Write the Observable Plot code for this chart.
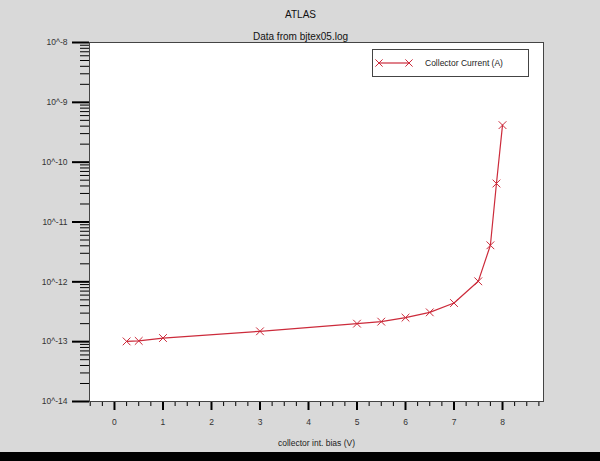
<!DOCTYPE html>
<html>
<head>
<meta charset="utf-8">
<script src="https://cdn.jsdelivr.net/npm/d3@7"></script>
<script src="https://cdn.jsdelivr.net/npm/@observablehq/plot@0.6"></script>
<style>
  html, body { margin: 0; padding: 0; background: #d9d9d9; width: 600px; height: 461px; overflow: hidden; }
  #wrap { position: relative; width: 600px; height: 452px; }
  #legend { position: absolute; left: 372px; top: 49px; }
  #bar { width: 600px; height: 9px; background: #000; }
</style>
</head>
<body>
<div id="wrap"></div>
<div id="bar"></div>
<script>
// ---- data ----
const title = "ATLAS";
const subtitle = "Data from bjtex05.log";
const xLabel = "collector int. bias (V)";
const seriesName = "Collector Current (A)";
const biasV = [0.25, 0.5, 1, 3, 5, 5.5, 6, 6.5, 7, 7.5, 7.75, 7.875, 8];
const currentA = [1.01e-13, 1.03e-13, 1.15e-13, 1.49e-13, 2.0e-13, 2.16e-13, 2.52e-13, 3.09e-13, 4.42e-13, 1.02e-12, 4.08e-12, 4.4e-11, 4.16e-10];
const xMajorTicks = [0, 1, 2, 3, 4, 5, 6, 7, 8];
const yDecades = [-14, -13, -12, -11, -10, -9, -8];

// ---- derived ----
const data = biasV.map((x, i) => ({x, y: currentA[i]}));
const yMajor = yDecades.map(k => Math.pow(10, k));
const yMinor = [];
yDecades.slice(0, -1).forEach(k => { for (let m = 2; m <= 9; m++) yMinor.push(m * Math.pow(10, k)); });
const xMinor = d3.range(-0.5, 8.85, 0.25).filter(v => Math.abs(v - Math.round(v)) > 1e-9);

const red = "#cc2b3b";
const font = "'Liberation Sans', Arial, sans-serif";

const chart = Plot.plot({
  width: 600,
  height: 452,
  marginLeft: 89,
  marginRight: 57,
  marginTop: 42,
  marginBottom: 51,
  style: { background: "#d9d9d9", fontFamily: font, fontSize: "8.5px", color: "#333" },
  x: { domain: [-0.515, 8.845] },
  y: { type: "log", domain: [1e-14, 1e-8] },
  marks: [
    Plot.frame({ fill: "white", stroke: null }),
    // y axis: minor + major ticks and labels
    Plot.axisY({ ticks: yMinor, tickSize: 9, tickFormat: () => "", stroke: "#000", label: null }),
    Plot.axisY({ ticks: yMajor, tickSize: 17, tickPadding: 5, strokeWidth: 2, stroke: "#000",
                 tickFormat: d => "10^" + Math.round(Math.log10(d)), label: null }),
    // x axis
    Plot.axisX({ ticks: xMinor, tickSize: 5, tickFormat: () => "", stroke: "#000", label: null }),
    Plot.axisX({ ticks: xMajorTicks, tickSize: 9, tickPadding: 8, strokeWidth: 2, stroke: "#000", label: null }),
    Plot.frame({ stroke: "#444", strokeWidth: 1 }),
    // titles
    Plot.text([title], { frameAnchor: "top", lineAnchor: "middle", dy: -28, dx: -16, text: d => d, fontSize: 10, fill: "#111" }),
    Plot.text([subtitle], { frameAnchor: "top", lineAnchor: "middle", dy: -6, dx: -16, text: d => d, fontSize: 10, fill: "#111" }),
    Plot.text([xLabel], { frameAnchor: "bottom", lineAnchor: "middle", dy: 42, text: d => d, fontSize: 8.5, fill: "#222" }),
    // series
    Plot.line(data, { x: "x", y: "y", stroke: red, strokeWidth: 1.2 }),
    Plot.dot(data, { x: "x", y: "y", symbol: "times", r: 3.6, stroke: red, strokeWidth: 1 })
  ]
});
document.getElementById("wrap").appendChild(chart);

// legend (overlay)
const lg = d3.create("svg").attr("id", "legend").attr("width", 158).attr("height", 29);
lg.append("rect").attr("x", 0.5).attr("y", 0.5).attr("width", 156).attr("height", 27)
  .attr("fill", "white").attr("stroke", "#444");
lg.append("line").attr("x1", 7).attr("x2", 37).attr("y1", 14).attr("y2", 14).attr("stroke", red).attr("stroke-width", 1.2);
[7, 37].forEach(cx => {
  lg.append("path").attr("d", `M${cx-3.6},${14-3.6}L${cx+3.6},${14+3.6}M${cx-3.6},${14+3.6}L${cx+3.6},${14-3.6}`)
    .attr("stroke", red).attr("stroke-width", 1).attr("fill", "none");
});
lg.append("text").attr("x", 53).attr("y", 14).attr("dy", "0.35em")
  .attr("font-family", font).attr("font-size", 8.5).attr("fill", "#222").text(seriesName);
document.getElementById("wrap").appendChild(lg.node());
</script>
</body>
</html>
